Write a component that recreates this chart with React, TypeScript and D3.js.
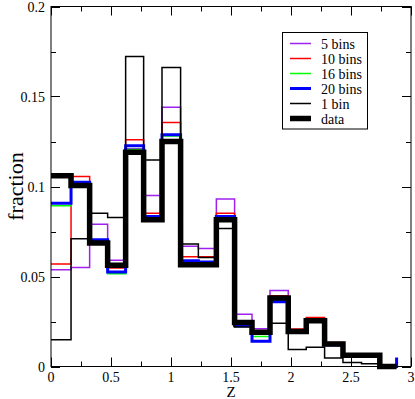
import React from 'react';
import * as d3 from 'd3';

// bin edges along Z
const binEdges = [0, 0.167, 0.322, 0.472, 0.622, 0.772, 0.925, 1.08, 1.228, 1.378, 1.53, 1.675, 1.825, 1.977, 2.127, 2.28, 2.433, 2.588, 2.74, 2.88];

const fiveBins = [0.0537, 0.055, 0.079, 0.059, 0.121, 0.095, 0.144, 0.0668, 0.0655, 0.093, 0.029, 0.021, 0.0422, 0.020, 0.026, 0.012, 0.006, 0.006, 0.0];
const tenBins = [0.0569, 0.1056, 0.070, 0.0547, 0.126, 0.0852, 0.1356, 0.061, 0.061, 0.0852, 0.025, 0.019, 0.0393, 0.0208, 0.0272, 0.0133, 0.0065, 0.0065, 0.0];
const sixteenBins = [0.0893, 0.1015, 0.070, 0.0515, 0.1205, 0.083, 0.128, 0.058, 0.058, 0.083, 0.023, 0.0167, 0.037, 0.019, 0.025, 0.012, 0.006, 0.006, 0.0];
const twentyBins = [0.0907, 0.1024, 0.0704, 0.0525, 0.1226, 0.0833, 0.1287, 0.0587, 0.058, 0.0833, 0.0226, 0.014, 0.036, 0.019, 0.025, 0.012, 0.006, 0.006, 0.0];
const oneBin = [0.0148, 0.071, 0.0852, 0.0828, 0.1722, 0.1147, 0.1661, 0.068, 0.0605, 0.0767, 0.022, 0.019, 0.024, 0.0095, 0.0107, 0.0047, 0.0022, 0.0015, 0.0];
const dataValues = [0.106, 0.1006, 0.0686, 0.0562, 0.119, 0.0815, 0.125, 0.0565, 0.0565, 0.0815, 0.0245, 0.019, 0.038, 0.0195, 0.0254, 0.0125, 0.0063, 0.0063, 0.0];

// value of the closing point at the last edge
const lastValues = [0, 0, 0, 0.005, 0, 0];

const seriesNames = ['5 bins', '10 bins', '16 bins', '20 bins', '1 bin', 'data'];
const seriesColors = ['#a020f0', '#ff0000', '#00ff00', '#0000ff', '#000000', '#000000'];
const seriesWidths = [1.5, 1.5, 1.5, 3, 1.5, 5.5];

const xTicks = [0, 0.5, 1, 1.5, 2, 2.5, 3];
const yTicks = [0, 0.05, 0.1, 0.15, 0.2];
const xTickLabels = ['0', '0.5', '1', '1.5', '2', '2.5', '3'];
const yTickLabels = ['0', '0.05', '0.1', '0.15', '0.2'];

const W = 415;
const H = 399;
const left = 51, right = 411, top = 6.5, bottom = 366.5;

export default function App() {
  const x = d3.scaleLinear().domain([0, 3]).range([left, right]);
  const y = d3.scaleLinear().domain([0, 0.2]).range([bottom, top]);

  const all = [fiveBins, tenBins, sixteenBins, twentyBins, oneBin, dataValues];
  const line = d3.line<[number, number]>()
    .x(d => x(d[0]))
    .y(d => y(d[1]))
    .curve(d3.curveStepAfter);

  const paths = all.map((vals, s) => {
    const pts: [number, number][] = vals.map((v, i) => [binEdges[i], v]);
    pts.push([binEdges[binEdges.length - 1], lastValues[s]]);
    return line(pts);
  });

  const minorX = d3.range(0, 3.001, 0.25);
  const minorY = d3.range(0, 0.2001, 0.025);
  const font = 'Liberation Serif';

  const legX = 282.5, legY = 32.5, legW = 85, legH = 96.5;

  return (
    <svg width={W} height={H} fontFamily={font} style={{ position: 'absolute', left: 0, top: 0, background: '#fff' }}>
      <rect x={0} y={0} width={W} height={H} fill="#fff" />
      {paths.map((p, s) => (
        <path key={s} d={p || ''} fill="none" stroke={seriesColors[s]} strokeWidth={seriesWidths[s]} strokeLinejoin="miter" />
      ))}
      {/* frame */}
      <rect x={left} y={top} width={right - left} height={bottom - top} fill="none" stroke="#000" strokeWidth={1} />
      {/* ticks */}
      {minorX.map((t, i) => {
        const major = i % 2 === 0;
        const len = major ? 9 : 5;
        const xx = Math.round(x(t)) + 0.5;
        return (
          <g key={'xt' + i}>
            <line x1={xx} x2={xx} y1={bottom} y2={bottom - len} stroke="#000" />
            <line x1={xx} x2={xx} y1={top} y2={top + len} stroke="#000" />
          </g>
        );
      })}
      {minorY.map((t, i) => {
        const major = i % 2 === 0;
        const len = major ? 9 : 5;
        const yy = Math.round(y(t)) + 0.5;
        return (
          <g key={'yt' + i}>
            <line x1={left} x2={left + len} y1={yy} y2={yy} stroke="#000" />
            <line x1={right} x2={right - len} y1={yy} y2={yy} stroke="#000" />
          </g>
        );
      })}
      {xTicks.map((t, i) => (
        <text key={'xl' + i} x={x(t)} y={381.5} fontSize={14} fontFamily={font} textAnchor="middle">{xTickLabels[i]}</text>
      ))}
      {yTicks.map((t, i) => (
        <text key={'yl' + i} x={45} y={y(t) + 5} fontSize={14} fontFamily={font} textAnchor="end">{yTickLabels[i]}</text>
      ))}
      <text x={x(1.5)} y={397} fontSize={15} fontFamily={font} textAnchor="middle">Z</text>
      <text transform={`translate(23,${(top + bottom) / 2}) rotate(-90)`} fontSize={22} fontFamily={font} textAnchor="middle">fraction</text>
      {/* legend */}
      <rect x={legX} y={legY} width={legW} height={legH} fill="#fff" stroke="#000" strokeWidth={1} />
      {seriesNames.map((n, i) => {
        const cy = 43.5 + i * 15;
        return (
          <g key={'lg' + i}>
            <line x1={290} x2={311} y1={cy} y2={cy} stroke={seriesColors[i]} strokeWidth={seriesWidths[i]} />
            <text x={321} y={cy + 5} fontSize={14} fontFamily={font}>{n}</text>
          </g>
        );
      })}
    </svg>
  );
}
